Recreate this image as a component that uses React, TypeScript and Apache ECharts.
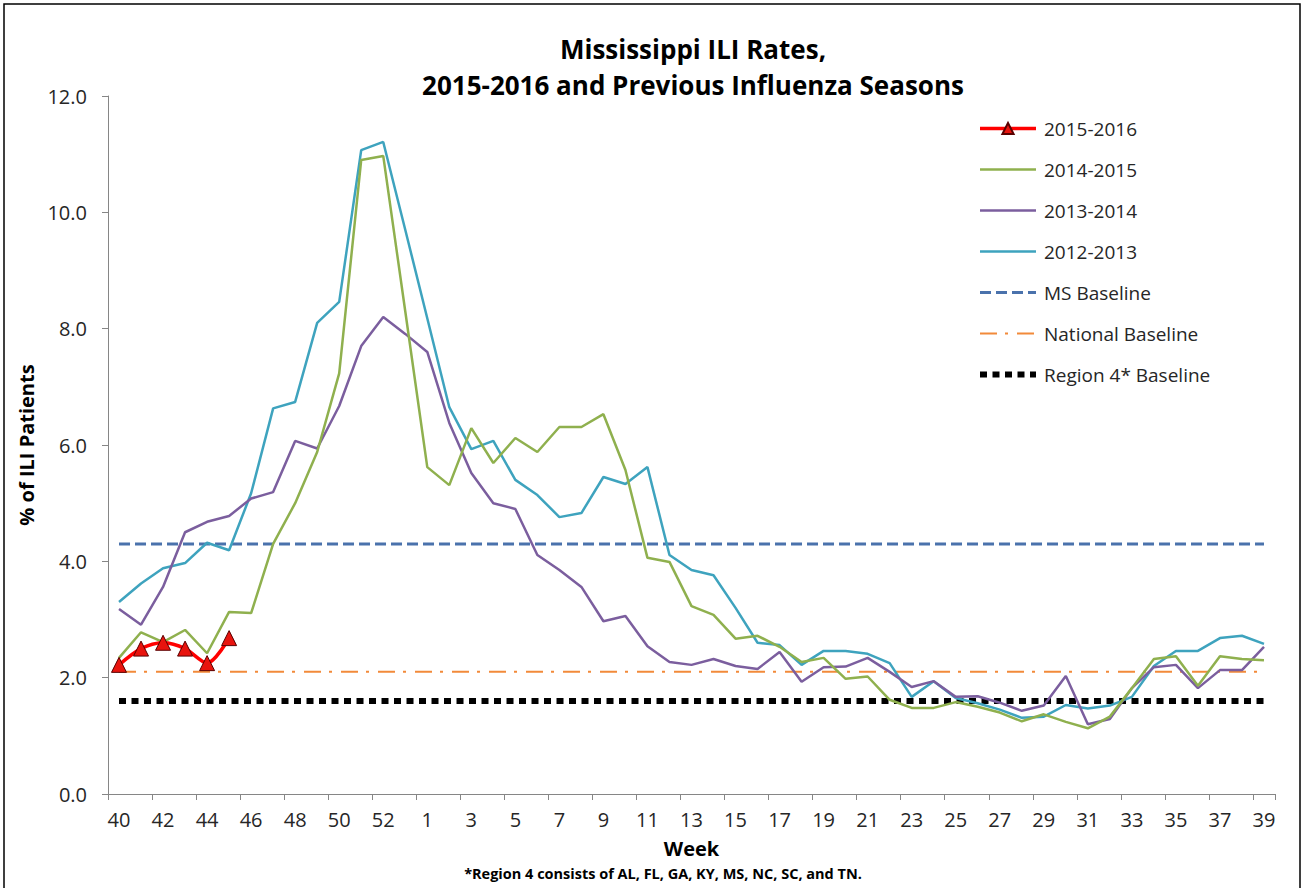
import React, { useEffect, useRef } from "react";
import * as echarts from "echarts";

const weeks = [
  "40", "41", "42", "43", "44", "45", "46", "47", "48", "49", "50", "51", "52", "53",
  "1", "2", "3", "4", "5", "6", "7", "8", "9", "10", "11", "12", "13", "14",
  "15", "16", "17", "18", "19", "20", "21", "22", "23", "24", "25", "26", "27",
  "28", "29", "30", "31", "32", "33", "34", "35", "36", "37", "38", "39",
];

const s2015_2016 = [2.22, 2.5, 2.6, 2.5, 2.25, 2.68];

const s2014_2015 = [
  2.34, 2.78, 2.61, 2.82, 2.42, 3.13, 3.11, 4.3, 5.0, 5.88, 7.23, 10.9, 10.97,
  8.3,
  5.62, 5.31, 6.29, 5.69, 6.12, 5.88, 6.31, 6.31, 6.53, 5.57, 4.06, 3.99, 3.23, 3.08,
  2.67, 2.72, 2.53, 2.27, 2.34, 1.98, 2.02, 1.62, 1.48, 1.48, 1.58, 1.5, 1.4,
  1.25, 1.37, 1.24, 1.13, 1.33, 1.82, 2.32, 2.37, 1.86, 2.37, 2.32, 2.3,
];

const s2013_2014 = [
  3.18, 2.91, 3.56, 4.5, 4.68, 4.78, 5.08, 5.19, 6.07, 5.94, 6.67, 7.7, 8.2,
  7.91,
  7.6, 6.38, 5.52, 5.0, 4.9, 4.11, 3.85, 3.56, 2.97, 3.06, 2.54, 2.27, 2.22, 2.32,
  2.2, 2.15, 2.44, 1.93, 2.18, 2.19, 2.34, 2.1, 1.84, 1.94, 1.67, 1.68, 1.57,
  1.43, 1.52, 2.03, 1.2, 1.29, 1.82, 2.18, 2.22, 1.82, 2.13, 2.13, 2.53,
];

const s2012_2013 = [
  3.3, 3.62, 3.88, 3.97, 4.32, 4.19, 5.17, 6.63, 6.74, 8.1, 8.46, 11.07, 11.21,
  9.7,
  8.18, 6.65, 5.93, 6.07, 5.4, 5.14, 4.76, 4.83, 5.45, 5.33, 5.62, 4.11, 3.85, 3.76,
  3.2, 2.6, 2.56, 2.22, 2.46, 2.46, 2.41, 2.25, 1.67, 1.94, 1.65, 1.56, 1.45,
  1.31, 1.33, 1.53, 1.47, 1.52, 1.67, 2.2, 2.46, 2.46, 2.68, 2.72, 2.58,
];

const msBaseline = 4.3;
const nationalBaseline = 2.1;
const region4Baseline = 1.6;

const yTicks = { min: 0, max: 12, interval: 2 };

const FONT = "'Open Sans', 'Noto Sans', sans-serif";

export default function App() {
  const ref = useRef<HTMLDivElement>(null);

  useEffect(() => {
    if (!ref.current) return;
    const chart = echarts.init(ref.current, undefined, { renderer: "svg" });
    const flat = (v: number) => weeks.map(() => v);
    const hideSym = { opacity: 0 };

    const option: any = {
      animation: false,
      backgroundColor: "#ffffff",
      title: {
        text: "Mississippi ILI Rates,\n2015-2016 and Previous Influenza Seasons",
        left: 688,
        top: 26,
        textAlign: "center",
        textStyle: {
          fontFamily: FONT,
          fontWeight: "bold",
          fontSize: 26,
          lineHeight: 36,
          color: "#000000",
        },
      },
      legend: {
        orient: "vertical",
        left: 972,
        top: 114,
        itemWidth: 56,
        itemHeight: 14,
        itemGap: 22,
        textStyle: { fontFamily: FONT, fontSize: 19, color: "#262626", padding: [0, 0, 0, 3] },
        data: [
          { name: "2015-2016", lineStyle: { width: 3.5 } },
          { name: "2014-2015", itemStyle: hideSym, lineStyle: { width: 2.5 } },
          { name: "2013-2014", itemStyle: hideSym, lineStyle: { width: 2.5 } },
          { name: "2012-2013", itemStyle: hideSym, lineStyle: { width: 2.5 } },
          { name: "MS Baseline", itemStyle: hideSym, lineStyle: { width: 3 } },
          { name: "National Baseline", itemStyle: hideSym, lineStyle: { width: 2 } },
          { name: "Region 4* Baseline", itemStyle: hideSym, lineStyle: { width: 6 } },
        ],
      },
      grid: { left: 108, right: 30, top: 96, bottom: 94 },
      xAxis: {
        type: "category",
        data: weeks,
        boundaryGap: true,
        name: "Week",
        nameLocation: "middle",
        nameGap: 44,
        nameTextStyle: { fontFamily: FONT, fontWeight: "bold", fontSize: 20, color: "#000" },
        axisLine: { lineStyle: { color: "#868686", width: 1 } },
        axisTick: { show: true, interval: 1, length: 6, lineStyle: { color: "#868686" } },
        axisLabel: { interval: 1, fontFamily: FONT, fontSize: 20, color: "#262626", margin: 15 },
        splitLine: { show: false },
      },
      yAxis: {
        type: "value",
        min: yTicks.min,
        max: yTicks.max,
        interval: yTicks.interval,
        name: "% of ILI Patients",
        nameLocation: "middle",
        nameGap: 70,
        nameRotate: 90,
        nameTextStyle: { fontFamily: FONT, fontWeight: "bold", fontSize: 20, color: "#000" },
        axisLine: { show: true, lineStyle: { color: "#868686", width: 1 } },
        axisTick: { show: true, length: 6, lineStyle: { color: "#868686" } },
        axisLabel: {
          fontFamily: FONT,
          fontSize: 20,
          color: "#262626",
          margin: 21,
          formatter: (v: number) => v.toFixed(1),
        },
        splitLine: { show: false },
      },
      graphic: [
        {
          type: "rect",
          shape: { x: 4, y: 4, width: 1296, height: 900 },
          style: { fill: "none", stroke: "#000000", lineWidth: 1.5 },
          silent: true,
        },
        {
          type: "text",
          style: {
            text: "*Region 4 consists of AL, FL, GA, KY, MS, NC, SC, and TN.",
            x: 663,
            y: 873,
            align: "center",
            verticalAlign: "middle",
            fontFamily: FONT,
            fontWeight: "bold",
            fontSize: 14.5,
            fill: "#000",
          },
        },
      ],
      series: [
        {
          name: "2015-2016",
          type: "line",
          data: s2015_2016,
          smooth: 0.3,
          z: 10,
          symbol: "triangle",
          symbolSize: 15,
          showAllSymbol: true,
          lineStyle: { color: "#FF0000", width: 3.5 },
          itemStyle: { color: "#E8140E", borderColor: "#5a0000", borderWidth: 1 },
        },
        {
          name: "2014-2015",
          type: "line",
          data: s2014_2015,
          symbol: "none",
          z: 5,
          lineStyle: { color: "#8FB04E", width: 2.5 },
          itemStyle: { color: "#8FB04E" },
        },
        {
          name: "2013-2014",
          type: "line",
          data: s2013_2014,
          symbol: "none",
          z: 4,
          lineStyle: { color: "#7B5E9E", width: 2.5 },
          itemStyle: { color: "#7B5E9E" },
        },
        {
          name: "2012-2013",
          type: "line",
          data: s2012_2013,
          symbol: "none",
          z: 3,
          lineStyle: { color: "#3EA3BE", width: 2.5 },
          itemStyle: { color: "#3EA3BE" },
        },
        {
          name: "MS Baseline",
          type: "line",
          data: flat(msBaseline),
          symbol: "none",
          z: 2,
          lineStyle: { color: "#4A72AC", width: 3, type: [11, 5], cap: "butt" },
          itemStyle: { color: "#4A72AC" },
        },
        {
          name: "National Baseline",
          type: "line",
          data: flat(nationalBaseline),
          symbol: "none",
          z: 2,
          lineStyle: { color: "#F28A3A", width: 2, type: [17, 8, 3, 9], cap: "butt" },
          itemStyle: { color: "#F28A3A" },
        },
        {
          name: "Region 4* Baseline",
          type: "line",
          data: flat(region4Baseline),
          symbol: "none",
          z: 2,
          lineStyle: { color: "#000000", width: 6, type: [7, 5.5], cap: "butt" },
          itemStyle: { color: "#000000" },
        },
      ],
    };

    chart.setOption(option);
    return () => chart.dispose();
  }, []);

  return (
    <div
      ref={ref}
      style={{ position: "fixed", left: 0, top: 0, width: 1305, height: 888, background: "#fff" }}
    />
  );
}
